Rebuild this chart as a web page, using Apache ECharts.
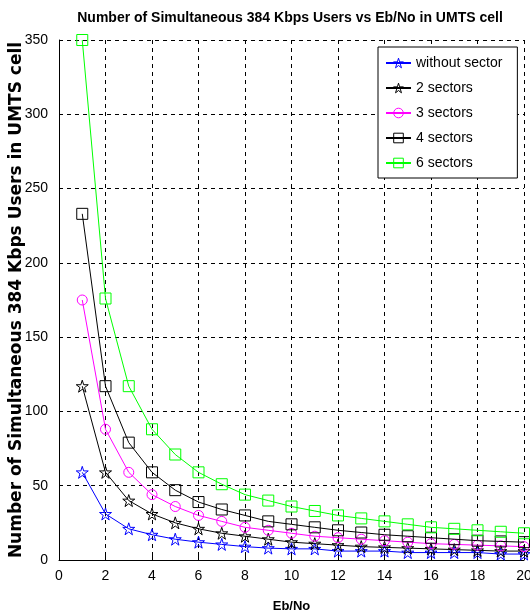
<!DOCTYPE html>
<html>
<head>
<meta charset="utf-8">
<script src="https://cdn.jsdelivr.net/npm/echarts@6/dist/echarts.min.js"></script>
<style>html,body{margin:0;padding:0;background:#fff}#c{width:530px;height:613px}</style>
</head>
<body>
<div id="c"></div>
<script>
const ebNo = [1,2,3,4,5,6,7,8,9,10,11,12,13,14,15,16,17,18,19,20];
const seriesNames = ['without sector','2 sectors','3 sectors','4 sectors','6 sectors'];
const withoutSector = [59,31,21,17,14,12,10.5,9,8,7.5,7.5,6,6,6,5,5,5,5,4,4];
const sectors2 = [117,59,40,31,25,21,18,16,14,12,11,10,9,8.5,8,7.5,7,6.5,6,6];
const sectors3 = [175,88,59,44,36,30,26,22,20,18,16,15,14,13,12,11,10.5,10,9.5,9];
const sectors4 = [233,117,79,59,47,39,34,30,26,24,22,20,18.5,17,16,15,14,13,12.5,12];
const sectors6 = [350,176,117,88,71,59,51,44,40,36,33,30,28,26,24,22,21,20,19,18];
const xTicks = [0,2,4,6,8,10,12,14,16,18,20];
const yTicks = [0,50,100,150,200,250,300,350];

const star = 'path://M50,0 L61.2,34.5 L97.6,34.5 L68.2,55.9 L79.4,90.5 L50,69.1 L20.6,90.5 L31.8,55.9 L2.4,34.5 L38.8,34.5 Z';
const styles = [
  {color:'#0000ff', symbol: star, size: 12},
  {color:'#000000', symbol: star, size: 12},
  {color:'#ff00ff', symbol: 'circle', size: 10},
  {color:'#000000', symbol: 'rect', size: 11},
  {color:'#00ff00', symbol: 'rect', size: 11}
];
const allData = [withoutSector, sectors2, sectors3, sectors4, sectors6];
const clear = 'rgba(255,255,255,0)';

const chart = echarts.init(document.getElementById('c'));
chart.setOption({
  animation: false,
  backgroundColor: '#fff',
  title: {
    text: 'Number of Simultaneous 384 Kbps Users vs Eb/No in UMTS cell',
    left: 285, top: 6, textAlign: 'center',
    textStyle: {fontFamily: 'Liberation Sans', fontSize: 14, fontWeight: 'bold', color: '#000'}
  },
  grid: {left: 59, right: 6, top: 40, bottom: 53, containLabel: false, outerBoundsMode: 'none'},
  legend: {
    left: 378, top: 47, orient: 'vertical',
    backgroundColor: '#fff', borderColor: '#000', borderWidth: 1,
    padding: [9, 15, 8, 7],
    itemWidth: 25, itemHeight: 12, itemGap: 11,
    textStyle: {fontFamily: 'Liberation Sans', fontSize: 14, color: '#000'},
    data: seriesNames.map((n, i) => ({
      name: n,
      itemStyle: {color: clear, borderColor: styles[i].color, borderWidth: 1}
    }))
  },
  xAxis: {
    type: 'value', min: 0, max: 20, interval: 2,
    name: 'Eb/No', nameLocation: 'middle', nameGap: 40, nameMoveOverlap: false,
    nameTextStyle: {fontFamily: 'Liberation Sans', fontSize: 13, fontWeight: 'bold', color: '#000'},
    axisLine: {show: true, onZero: false, lineStyle: {color: '#000'}},
    axisTick: {show: true, inside: true, length: 4, lineStyle: {color: '#000'}},
    axisLabel: {fontFamily: 'Liberation Sans', fontSize: 14, color: '#000', margin: 9,
      formatter: v => xTicks.includes(v) ? String(v) : ''},
    splitLine: {show: true, lineStyle: {color: '#000', type: [4, 4], width: 1}}
  },
  yAxis: {
    type: 'value', min: 0, max: 350, interval: 50,
    name: 'Number of Simultaneous 384 Kbps Users in UMTS cell', nameLocation: 'middle', nameGap: 34,
    nameMoveOverlap: false,
    nameTextStyle: {fontFamily: 'DejaVu Sans', fontSize: 17, fontWeight: 'bold', color: '#000'},
    axisLine: {show: true, onZero: false, lineStyle: {color: '#000'}},
    axisTick: {show: true, inside: true, length: 4, lineStyle: {color: '#000'}},
    axisLabel: {fontFamily: 'Liberation Sans', fontSize: 14, color: '#000', margin: 11,
      formatter: v => yTicks.includes(v) ? String(v) : ''},
    splitLine: {show: true, lineStyle: {color: '#000', type: [4, 4], width: 1}}
  },
  series: seriesNames.map((n, i) => ({
    name: n, type: 'line',
    data: ebNo.map((x, j) => [x, allData[i][j]]),
    symbol: styles[i].symbol, symbolSize: styles[i].size,
    showAllSymbol: true,
    lineStyle: {color: styles[i].color, width: 1},
    itemStyle: {color: clear, borderColor: styles[i].color, borderWidth: 1},
    emphasis: {disabled: true},
    z: 2 + i
  }))
});
</script>
</body>
</html>
